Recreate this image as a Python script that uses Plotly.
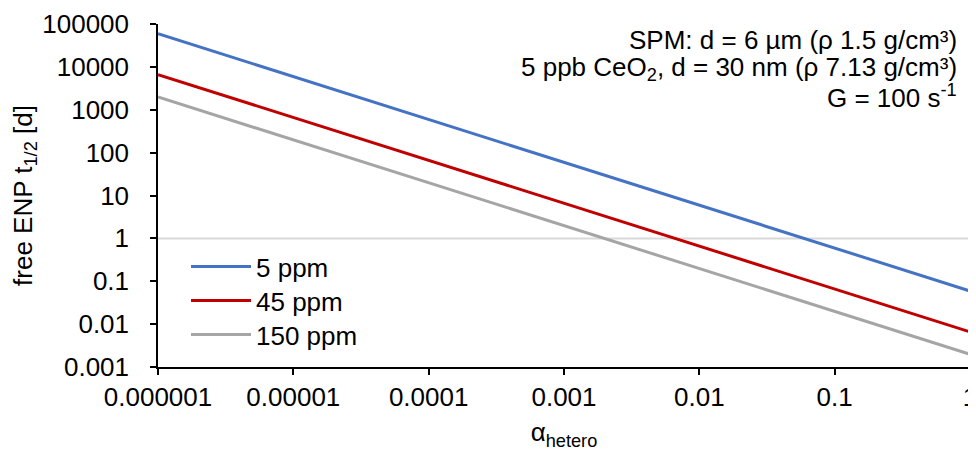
import plotly.graph_objects as go

# alpha_hetero values (x)
alpha = [1e-6, 1e-5, 1e-4, 1e-3, 1e-2, 1e-1, 1]
# free ENP half-life [d] for each SPM concentration
t_5ppm = [59400, 5940, 594, 59.4, 5.94, 0.594, 0.0594]
t_45ppm = [6600, 660, 66, 6.6, 0.66, 0.066, 0.0066]
t_150ppm = [1980, 198, 19.8, 1.98, 0.198, 0.0198, 0.00198]
ref_x = [1e-6, 1]
ref_y = [1, 1]

x_ticks = [1e-6, 1e-5, 1e-4, 1e-3, 1e-2, 1e-1, 1]
x_ticktext = ["0.000001", "0.00001", "0.0001", "0.001", "0.01", "0.1", "1"]
y_ticks = [0.001, 0.01, 0.1, 1, 10, 100, 1000, 10000, 100000]
y_ticktext = ["0.001", "0.01", "0.1", "1", "10", "100", "1000", "10000", "100000"]

FONT = "Liberation Sans, Arial, sans-serif"
FS = 26

fig = go.Figure()
fig.add_trace(go.Scatter(x=ref_x, y=ref_y, mode="lines", line=dict(color="#D9D9D9", width=2),
                         showlegend=False, hoverinfo="skip"))
fig.add_trace(go.Scatter(x=alpha, y=t_5ppm, mode="lines", name="5 ppm", legend="legend",
                         line=dict(color="#4472C4", width=3)))
fig.add_trace(go.Scatter(x=alpha, y=t_45ppm, mode="lines", name="45 ppm", legend="legend2",
                         line=dict(color="#C00000", width=3)))
fig.add_trace(go.Scatter(x=alpha, y=t_150ppm, mode="lines", name="150 ppm", legend="legend3",
                         line=dict(color="#A5A5A5", width=3)))

leg_common = dict(xanchor="left", yanchor="top", bgcolor="rgba(0,0,0,0)",
                  font=dict(size=FS, family=FONT, color="black"), itemwidth=60)

# page body has an 8px margin, so the figure is drawn 8px smaller
fig.update_layout(
    width=968, height=445,
    margin=dict(l=150, r=6, t=16, b=86, autoexpand=False),
    paper_bgcolor="white", plot_bgcolor="white",
    font=dict(family=FONT, size=FS, color="black"),
    legend=dict(x=0.0345, y=0.3615, **leg_common),
    legend2=dict(x=0.0345, y=0.2624, **leg_common),
    legend3=dict(x=0.0345, y=0.1633, **leg_common),
    xaxis=dict(type="log", range=[-6, 0], tickvals=x_ticks, ticktext=x_ticktext,
               automargin=False,
               showgrid=False, zeroline=False, showline=True, linecolor="black", linewidth=1.5,
               ticks="outside", ticklen=6, tickcolor="black", tickwidth=1.5,
               ticklabelstandoff=0, ticklabeloverflow="allow",
               tickfont=dict(size=FS, family=FONT, color="black"),
               title=dict(text="α<sub>hetero</sub>", font=dict(size=FS, family=FONT), standoff=12)),
    yaxis=dict(type="log", range=[-3, 5], tickvals=y_ticks, ticktext=y_ticktext,
               automargin=False,
               showgrid=False, zeroline=False, showline=True, linecolor="black", linewidth=1.5,
               ticks="outside", ticklen=6, tickcolor="black", tickwidth=1.5,
               ticklabelstandoff=16, ticklabeloverflow="allow",
               tickfont=dict(size=FS, family=FONT, color="black"),
               title=dict(text="free ENP t<sub>1/2</sub> [d]", font=dict(size=FS, family=FONT), standoff=3)),
)

notes = ["SPM: d = 6 µm (ρ 1.5 g/cm³)",
         "5 ppb CeO<sub>2</sub>, d = 30 nm (ρ 7.13 g/cm³)",
         "G = 100 s<sup>-1</sup>"]
note_y = [1.0023, 0.9253, 0.8425]
for t, yy in zip(notes, note_y):
    fig.add_annotation(text=t, xref="paper", yref="paper", x=0.987, y=yy,
                       xanchor="right", yanchor="top", showarrow=False,
                       font=dict(size=FS, family=FONT, color="black"))

fig.write_html("out.html")
